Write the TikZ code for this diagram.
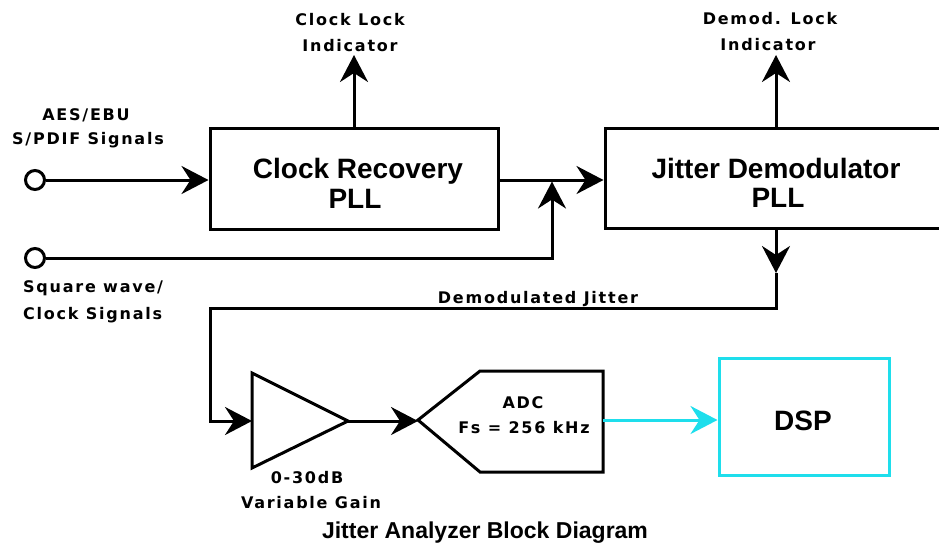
\documentclass[tikz,border=0pt]{standalone}
\usepackage{fontspec}
\setmainfont{Liberation Sans}
\newfontfamily\lblfont[LetterSpace=11]{DejaVu Sans}
\usetikzlibrary{arrows.meta}
\definecolor{dspcyan}{RGB}{30,222,236}
\begin{document}
\begin{tikzpicture}[x=1pt,y=-1pt,
  wire/.style={line width=3pt},
  arr/.style={wire,-{Stealth[length=27pt,width=28pt,inset=9pt]}},
  blk/.style={draw,line width=3pt,inner sep=0pt},
  lbl/.style={font=\lblfont\bfseries\fontsize{16}{20}\selectfont,inner sep=0pt,anchor=base},
  big/.style={font=\bfseries\fontsize{28}{30}\selectfont,inner sep=0pt,anchor=base},
  port/.style={draw,circle,line width=3pt,minimum size=19pt,inner sep=0pt,fill=white}
]
\useasboundingbox (0,0) rectangle (939,542);
\clip (0,0) rectangle (939,542);

% blocks
\node[blk,minimum width=288pt,minimum height=101pt] (cr) at (354,178.5) {};
\node[big] (crt) at (358,178) {Clock Recovery};
\node[big] (crp) at (355,208) {PLL};

\node[blk,minimum width=342pt,minimum height=100pt] (jd) at (776,178) {};
\node[big] (jdt) at (776,178) {Jitter Demodulator};
\node[big] (jdp) at (778,207) {PLL};

% inputs
\node[port] (in1) at (35,180) {};
\node[port] (in2) at (35,258) {};
\node[lbl] (l1a) at (86,120) {AES/EBU};
\node[lbl] (l1b) at (88,144) {S/PDIF Signals};
\node[lbl,anchor=base west] (l2a) at (23,292) {Square wave/};
\node[lbl,anchor=base west] (l2b) at (23,319) {Clock Signals};

\coordinate (j) at (552,180);
\draw[arr] (in1.east) -- (in1.east -| cr.west);
\draw[arr] (cr.east |- j) -- (j -| jd.west);
\draw[arr,shorten >=1.5pt] (in2.east) -- (j |- in2) -- (j);

% lock indicators
\coordinate (cl) at (354,55);
\draw[arr] (cr.north) -- (cl);
\node[lbl] (cla) at (350,25) {Clock Lock};
\node[lbl] (clb) at (350,51) {Indicator};

\coordinate (dl) at (776,55);
\draw[arr] (jd.north) -- (dl);
\node[lbl] (dla) at (770,24) {Demod. Lock};
\node[lbl] (dlb) at (768,50) {Indicator};

% demodulated jitter path
\coordinate (dm) at (776,273);
\coordinate (dc) at (776,308);
\coordinate (lc) at (210,308);
\coordinate (ampin) at (252,421);
\coordinate (ampout) at (348,421);
\draw[arr] (jd.south) -- (dm);
\draw[arr] (dm) -- (dc) -- (lc) |- (ampin);
\node[lbl] (djl) at (538,303) {Demodulated Jitter};

% amplifier
\draw[wire,line join=miter] (252,373) -- (252,468) -- (ampout) -- cycle;
\node[lbl] (ga) at (307,483) {0-30dB};
\node[lbl] (gb) at (311,508) {Variable Gain};

% ADC
\coordinate (adcin) at (418,420);
\coordinate (adcout) at (603,420);
\draw[arr] (ampout) -- (adcin |- ampout);
\draw[wire,line join=miter] (adcin) -- (480,371) -- (603,371) -- (603,472) -- (480,472) -- cycle;
\node[lbl] (adca) at (523,408) {ADC};
\node[lbl] (adcb) at (524,433) {Fs = 256 kHz};

% DSP
\node[draw=dspcyan,line width=3pt,minimum width=170pt,minimum height=117pt,inner sep=0pt] (dsp) at (804,416.5) {};
\node[big] (dspt) at (803,430) {DSP};
\draw[arr,dspcyan] (adcout) -- (adcout -| dsp.west);

% caption
\node[font=\bfseries\fontsize{23}{25}\selectfont,anchor=base,inner sep=0pt] (cap) at (485,538) {Jitter Analyzer Block Diagram};
\end{tikzpicture}
\end{document}
